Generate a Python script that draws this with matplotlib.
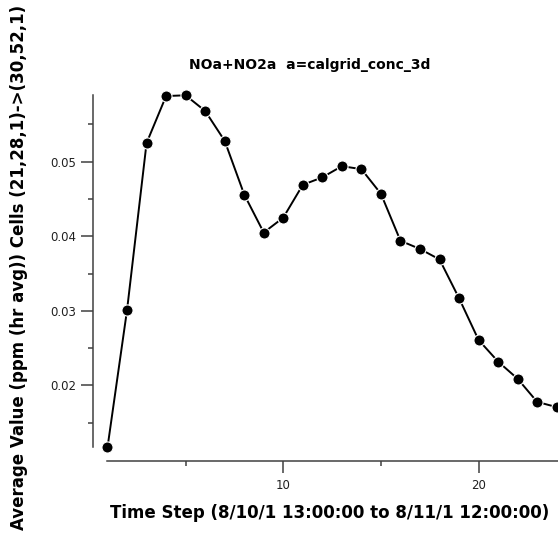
import numpy as np
import matplotlib
matplotlib.use('Agg')
import matplotlib.pyplot as plt
from matplotlib.ticker import MultipleLocator

steps = np.arange(1, 25)
values = [0.0117, 0.0301, 0.0525, 0.0588, 0.0589, 0.0568, 0.0528, 0.0456,
          0.0405, 0.0425, 0.0469, 0.0479, 0.0494, 0.0490, 0.0457, 0.0394,
          0.0383, 0.0369, 0.0317, 0.0261, 0.0232, 0.0209, 0.0178, 0.0171]
title = 'NOa+NO2a  a=calgrid_conc_3d'
xlabel = 'Time Step (8/10/1 13:00:00 to 8/11/1 12:00:00)'
ylabel = 'Average Value (ppm (hr avg)) Cells (21,28,1)->(30,52,1)'

W, H = 558, 538
fig = plt.figure(figsize=(W / 100, H / 100), dpi=100)
ax = fig.add_axes([107.5 / W, (H - 447.4) / H, 23.08 * 19.53 / W, 352.1 / H])

ax.plot(steps, values, '-o', color='black', lw=1.4, ms=8,
        mfc='black', mec='white', mew=0.8, clip_on=False, zorder=3)

ax.set_xlim(1, 24.08)
ax.set_ylim(min(values), max(values))

for s in ['top', 'right']:
    ax.spines[s].set_visible(False)
ax.spines['left'].set_position(('outward', 10.2))
ax.spines['bottom'].set_position(('outward', 9.6))
ax.spines['bottom'].set_bounds(1, 24.08)
for s in ['left', 'bottom']:
    ax.spines[s].set_color('#404040')
    ax.spines[s].set_linewidth(1.1)

ax.xaxis.set_major_locator(MultipleLocator(10))
ax.xaxis.set_minor_locator(MultipleLocator(5))
ax.yaxis.set_major_locator(MultipleLocator(0.01))
ax.yaxis.set_minor_locator(MultipleLocator(0.005))
ax.xaxis.set_major_formatter(lambda v, p: '%d' % v)
ax.yaxis.set_major_formatter(lambda v, p: '%.2f' % v)

ax.tick_params(which='major', length=8.6, width=1.1, color='#404040',
               labelsize=8.5, labelcolor='#202020')
ax.tick_params(which='minor', length=3.6, width=1.1, color='#404040')
ax.tick_params(axis='y', pad=3.6)
ax.tick_params(axis='x', pad=4.7)

fig.text(310 / W, 1 - 65 / H, title, ha='center', va='center',
         fontsize=10, fontweight='bold')
fig.text(330 / W, 1 - 513 / H, xlabel, ha='center', va='center',
         fontsize=12, fontweight='bold')
fig.text(19 / W, 1 - 267 / H, ylabel, ha='center', va='center',
         rotation=90, fontsize=12, fontweight='bold')

fig.savefig('out.png', dpi=100)
